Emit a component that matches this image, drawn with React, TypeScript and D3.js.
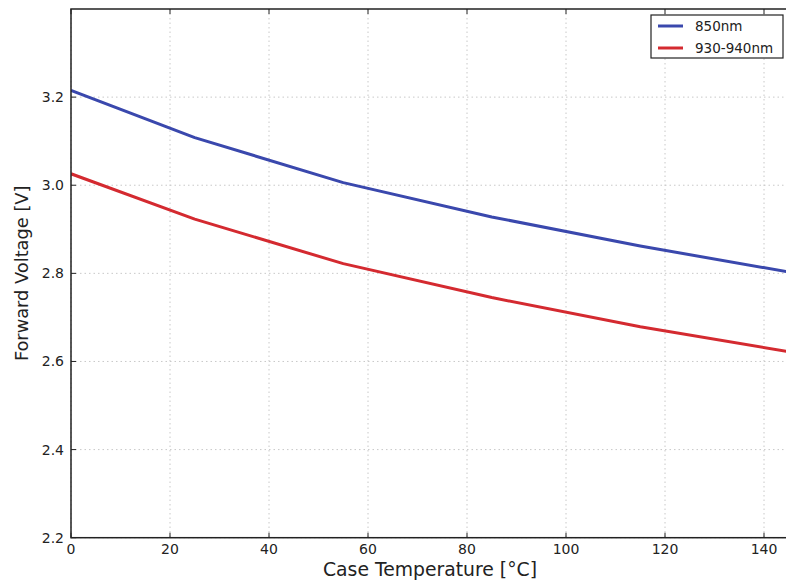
import React from "react";
import * as d3 from "d3";

const temps = [0, 25, 55, 85, 115, 145];
const v850 = [3.215, 3.108, 3.006, 2.928, 2.862, 2.803];
const v930 = [3.026, 2.923, 2.822, 2.745, 2.679, 2.622];
const xTicks = [0, 20, 40, 60, 80, 100, 120, 140];
const yTicks = [2.2, 2.4, 2.6, 2.8, 3.0, 3.2];
const seriesNames = ["850nm", "930-940nm"];
const seriesColors = ["#3a48ad", "#d42a30"];

export default function App() {
  const W = 786, H = 586;
  const left = 71, top = 9, bottom = 537.7;
  const x = d3.scaleLinear().domain([0, 150]).range([left, left + 742.5]);
  const y = d3.scaleLinear().domain([2.2, 3.4]).range([bottom, top]);
  const line = d3.line<[number, number]>().x(d => x(d[0])).y(d => y(d[1]));
  const series = [v850, v930].map(vs => temps.map((t, i) => [t, vs[i]] as [number, number]));
  const font = "DejaVu Sans, sans-serif";
  const right = x(150);
  return (
    <svg width={W} height={H} style={{ position: "absolute", left: 0, top: 0, background: "#fff" }}>
      <defs>
        <clipPath id="plot"><rect x={left} y={top} width={right - left} height={bottom - top} /></clipPath>
      </defs>
      <rect width={W} height={H} fill="#fff" />
      {xTicks.map(t => (
        <line key={"gx" + t} x1={x(t)} x2={x(t)} y1={top} y2={bottom} stroke="#c8c8c8" strokeDasharray="1.5,3" />
      ))}
      {yTicks.map(t => (
        <line key={"gy" + t} x1={left} x2={right} y1={y(t)} y2={y(t)} stroke="#c8c8c8" strokeDasharray="1.5,3" />
      ))}
      <g clipPath="url(#plot)">
        {series.map((s, i) => (
          <path key={i} d={line(s) || ""} fill="none" stroke={seriesColors[i]} strokeWidth={3} strokeLinejoin="round" />
        ))}
      </g>
      {xTicks.map(t => (
        <g key={"tx" + t}>
          <line x1={x(t)} x2={x(t)} y1={bottom} y2={bottom - 5} stroke="#222" />
          <line x1={x(t)} x2={x(t)} y1={top} y2={top + 5} stroke="#222" />
          <text x={x(t)} y={554} textAnchor="middle" fontFamily={font} fontSize={14} fill="#222">{t}</text>
        </g>
      ))}
      {yTicks.map(t => (
        <g key={"ty" + t}>
          <line x1={left} x2={left + 5} y1={y(t)} y2={y(t)} stroke="#222" />
          <line x1={right} x2={right - 5} y1={y(t)} y2={y(t)} stroke="#222" />
          <text x={64} y={y(t) + 5} textAnchor="end" fontFamily={font} fontSize={14} fill="#222">{t.toFixed(1)}</text>
        </g>
      ))}
      <rect x={left} y={top} width={right - left} height={bottom - top} fill="none" stroke="#222" strokeWidth={1.5} />
      <g>
        <rect x={651} y={15} width={132} height={43} fill="#fff" stroke="#222" strokeWidth={1.2} />
        {seriesNames.map((n, i) => (
          <g key={n}>
            <line x1={658} x2={683} y1={26 + i * 22} y2={26 + i * 22} stroke={seriesColors[i]} strokeWidth={3} />
            <text x={695} y={31 + i * 22} fontFamily={font} fontSize={13.5} fill="#222">{n}</text>
          </g>
        ))}
      </g>
      <text x={430} y={576} textAnchor="middle" fontFamily={font} fontSize={18.8} fill="#222">Case Temperature [°C]</text>
      <text transform={`translate(28,${(top + bottom) / 2}) rotate(-90)`} textAnchor="middle" fontFamily={font} fontSize={17.8} fill="#222">Forward Voltage [V]</text>
    </svg>
  );
}
